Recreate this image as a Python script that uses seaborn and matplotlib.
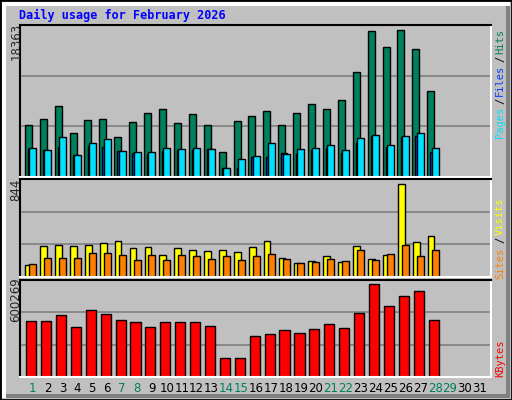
import numpy as np
import pandas as pd
import matplotlib
matplotlib.use("Agg")
import matplotlib.pyplot as plt
import seaborn as sns
from matplotlib.patches import Rectangle

days = np.arange(1, 29)
hits = [6530, 7280, 8900, 5530, 7150, 7280, 5030, 6900, 8020, 8520, 6780, 7900, 6530, 3160,
        7030, 7650, 8270, 6530, 8020, 9140, 8520, 9640, 13130, 18240, 16250, 18363, 16000, 10770]
files = [3660, 3410, 5030, 2790, 4290, 4790, 3290, 3160, 3160, 3660, 3540, 3660, 3540, 1170,
         2290, 2670, 4290, 2920, 3540, 3660, 4040, 3410, 4910, 5280, 4040, 5160, 5530, 3660]
pages = [3540, 3410, 3790, 2790, 3910, 3790, 3290, 3040, 2920, 3290, 3410, 3410, 3540, 1170,
         1170, 2540, 2540, 3040, 2920, 3410, 3660, 3040, 4290, 5160, 3790, 5040, 5160, 3160]
visits = [113, 277, 286, 277, 286, 304, 323, 259, 268, 195, 259, 240, 231, 240,
          222, 268, 323, 176, 131, 149, 186, 140, 277, 167, 195, 844, 314, 368]
sites = [122, 176, 176, 176, 213, 213, 195, 158, 195, 158, 195, 186, 167, 186,
         158, 186, 204, 167, 131, 140, 167, 149, 240, 158, 204, 286, 186, 240]
kbytes = [363600, 363600, 396500, 324200, 429400, 403100, 370200, 357000, 324200, 357000,
          357000, 357000, 330700, 120300, 120300, 265000, 278100, 304400, 284700, 311000,
          343900, 317600, 409600, 600269, 455700, 521400, 554300, 370200]
all_days = list(range(1, 32))
weekend = [1, 7, 8, 14, 15, 21, 22, 28, 29]

BG = "#C0C0C0"
W, H = 512, 400
fig = plt.figure(figsize=(W / 100, H / 100), dpi=100)
fig.patch.set_facecolor(BG)
sns.set_style("white")

# frame bevel
fig.add_artist(Rectangle((0, 0), 1, 1, transform=fig.transFigure, fill=False, ec="black", lw=2))
fig.add_artist(Rectangle((2 / W, 2 / H), 4 / W, 1 - 4 / H, transform=fig.transFigure, fc="white", ec="none"))
fig.add_artist(Rectangle((2 / W, 1 - 6 / H), 1 - 4 / W, 4 / H, transform=fig.transFigure, fc="white", ec="none"))
fig.add_artist(Rectangle((1 - 6 / W, 2 / H), 4 / W, 1 - 8 / H, transform=fig.transFigure, fc="#808080", ec="none"))
fig.add_artist(Rectangle((6 / W, 2 / H), 1 - 8 / W, 4 / H, transform=fig.transFigure, fc="#808080", ec="none"))

fig.text(19 / W, 1 - 15 / H, "Daily usage for February 2026", color="#0000FF",
         family="DejaVu Sans Mono", weight="bold", fontsize=8.5, va="center")

x0, x1 = 20, 491
XLIM = (0.15, 31.75)


def panel(top, bottom):
    ax = fig.add_axes([x0 / W, 1 - bottom / H, (x1 - x0) / W, (bottom - top) / H])
    ax.set_facecolor(BG)
    for s in ["left", "top"]:
        ax.spines[s].set_color("black")
        ax.spines[s].set_linewidth(1.5)
    for s in ["right", "bottom"]:
        ax.spines[s].set_color("white")
        ax.spines[s].set_linewidth(1.5)
    return ax


def bars(ax, vals, off, width, color):
    df = pd.DataFrame({"x": days + off, "y": vals})
    sns.barplot(data=df, x="x", y="y", native_scale=True, width=width, color=color,
                edgecolor="black", linewidth=1, saturation=1, ax=ax)


def grid(ax, top):
    for f in (1 / 3, 2 / 3):
        ax.axhline(top * f, color="#808080", lw=1.2, zorder=0)
    return top


ax1 = panel(25, 177)
t1 = grid(ax1, 18363 * 152 / 147.4)
bars(ax1, hits, -0.29, 0.47, "#00805C")
bars(ax1, pages, -0.12, 0.4, "#0040FF")
bars(ax1, files, 0.0, 0.47, "#00E0FF")

ax2 = panel(179, 277)
t2 = grid(ax2, 844 * 97 / 92.4)
bars(ax2, visits, -0.27, 0.45, "#FFFF00")
bars(ax2, sites, 0.0, 0.47, "#FF8000")

ax3 = panel(280, 377)
t3 = grid(ax3, 600269 * 95 / 91.3)
bars(ax3, kbytes, -0.1, 0.68, "#FF0000")

for ax, top in ((ax1, t1), (ax2, t2), (ax3, t3)):
    ax.set_xlim(*XLIM)
    ax.set_ylim(0, top)
    ax.set_xlabel("")
    ax.set_ylabel("")
    ax.set_xticks([])
    ax.set_yticks([])

for d in all_days:
    xd = (x0 + (d - XLIM[0]) / (XLIM[1] - XLIM[0]) * (x1 - x0)) / W
    fig.text(xd, 1 - 389 / H, str(d), ha="center", va="center", fontsize=8.5,
             color="#00805C" if d in weekend else "black", family="DejaVu Sans")

lab = dict(family="DejaVu Sans", fontsize=8.5, rotation=90, ha="center", va="center")
fig.text(16 / W, 1 - 41 / H, "18363", **lab)
fig.text(16 / W, 1 - 190 / H, "844", **lab)
fig.text(16 / W, 1 - 300 / H, "600269", **lab)

mono = dict(family="DejaVu Sans Mono", fontsize=7.5, rotation=90, ha="center", va="center")
rx = 500 / W
for label, y, c in [("Pages", 122, "#00E0FF"), ("/", 101, "black"), ("Files", 80, "#0040FF"),
                    ("/", 59, "black"), ("Hits", 41, "#00805C"),
                    ("Sites", 263, "#FF8000"), ("/", 240, "black"), ("Visits", 216, "#FFFF00"),
                    ("KBytes", 358, "#FF0000")]:
    fig.text(rx, 1 - y / H, label, color=c, **mono)

fig.savefig("out.png", dpi=100, facecolor=BG)
